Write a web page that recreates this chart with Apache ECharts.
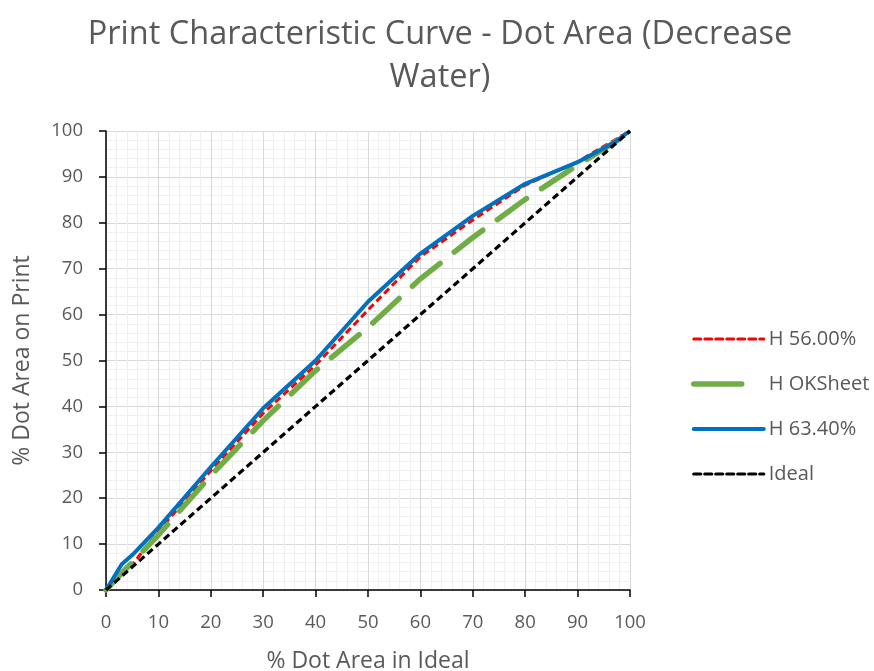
<!DOCTYPE html>
<html>
<head>
<meta charset="utf-8">
<script src="https://cdn.jsdelivr.net/npm/echarts@6/dist/echarts.min.js"></script>
<style>
  html, body { margin: 0; padding: 0; background: #ffffff; }
  #chart { width: 874px; height: 671px; }
</style>
</head>
<body>
<div id="chart"></div>
<script>
// Ideal dot area (%) at each measured patch
const idealPct = [0, 3, 5, 10, 20, 30, 40, 50, 60, 70, 80, 90, 97, 100];
// Measured dot area on print (%) for each condition
const h5600 = [0, 3.3, 5.5, 12.8, 26.0, 38.5, 49.0, 61.0, 72.6, 80.6, 88.2, 93.3, 98.0, 100];
const hOKSheet = [0, 3.7, 6.0, 12.0, 24.9, 36.9, 47.8, 57.2, 67.8, 76.8, 85.1, 92.6, 97.5, 100];
const h6340 = [0, 5.6, 7.6, 13.6, 26.8, 39.6, 50.0, 62.8, 73.3, 81.5, 88.5, 93.2, 97.5, 100];
const idealLine = [0, 3, 5, 10, 20, 30, 40, 50, 60, 70, 80, 90, 97, 100];
const seriesNames = ['H 56.00%', 'H OKSheet', 'H 63.40%', 'Ideal'];
const axisTicks = [0, 10, 20, 30, 40, 50, 60, 70, 80, 90, 100];

const FONT = '"Open Sans"';
const GREY = '#595959';

// Line styles shared by the plotted series and their legend samples
const styles = [
  { color: '#ff0000', width: 3, type: [7, 4] },
  { color: '#70ad47', width: 5.5, type: [36, 18], cap: 'round' },
  { color: '#0070c0', width: 4, type: 'solid' },
  { color: '#000000', width: 3.2, type: [7, 4] }
];
const legendDash = [[7, 4], [48, 40], 'solid', [7, 4]];

function pairs(ys) {
  return idealPct.map((x, i) => [x, ys[i]]);
}

const chart = echarts.init(document.getElementById('chart'), null, { renderer: 'canvas' });

const axisCommon = {
  type: 'value',
  min: axisTicks[0],
  max: axisTicks[axisTicks.length - 1],
  interval: 10,
  minorTick: { show: false, splitNumber: 5 },
  minorSplitLine: { show: true, lineStyle: { color: '#efefef', width: 1 } },
  splitLine: { show: true, lineStyle: { color: '#d9d9d9', width: 1 } },
  axisLine: { show: true, onZero: false, lineStyle: { color: '#000000', width: 1.5 } },
  axisTick: { show: true, inside: false, length: 7, lineStyle: { color: '#000000', width: 1.5 } },
  axisLabel: { color: GREY, fontFamily: FONT, fontSize: 18.5 },
  nameLocation: 'middle',
  nameTextStyle: { color: GREY, fontFamily: FONT, fontSize: 23 }
};

const seriesList = [h5600, hOKSheet, h6340, idealLine].map((ys, i) => ({
  name: seriesNames[i],
  type: 'line',
  data: pairs(ys),
  showSymbol: false,
  symbol: 'none',
  lineStyle: Object.assign({}, styles[i]),
  itemStyle: { color: styles[i].color }
}));

chart.setOption({
  animation: false,
  backgroundColor: '#ffffff',
  title: {
    text: 'Print Characteristic Curve - Dot Area (Decrease\nWater)',
    left: 435,
    textAlign: 'center',
    top: 8,
    textStyle: { color: GREY, fontFamily: FONT, fontSize: 32.5, fontWeight: 'normal', lineHeight: 43 }
  },
  grid: { left: 106, right: 244, top: 131, bottom: 81, containLabel: false, outerBoundsMode: 'none' },
  xAxis: Object.assign({}, axisCommon, {
    name: '% Dot Area in Ideal',
    nameGap: 60,
    axisLabel: Object.assign({}, axisCommon.axisLabel, { margin: 23 })
  }),
  yAxis: Object.assign({}, axisCommon, {
    name: '% Dot Area on Print',
    nameGap: 72,
    axisLabel: Object.assign({}, axisCommon.axisLabel, { margin: 23 })
  }),
  legend: {
    orient: 'vertical',
    left: 686,
    top: 324,
    itemWidth: 70,
    itemHeight: 20,
    itemGap: 25,
    itemStyle: { color: 'rgba(0,0,0,0)', borderWidth: 0, opacity: 0 },
    textStyle: { color: GREY, fontFamily: FONT, fontSize: 20, lineHeight: 20 },
    data: seriesNames.map((name, i) => ({
      name: name,
      lineStyle: { color: styles[i].color, width: styles[i].width, type: legendDash[i], cap: 'round' }
    }))
  },
  series: seriesList
});
</script>
</body>
</html>
